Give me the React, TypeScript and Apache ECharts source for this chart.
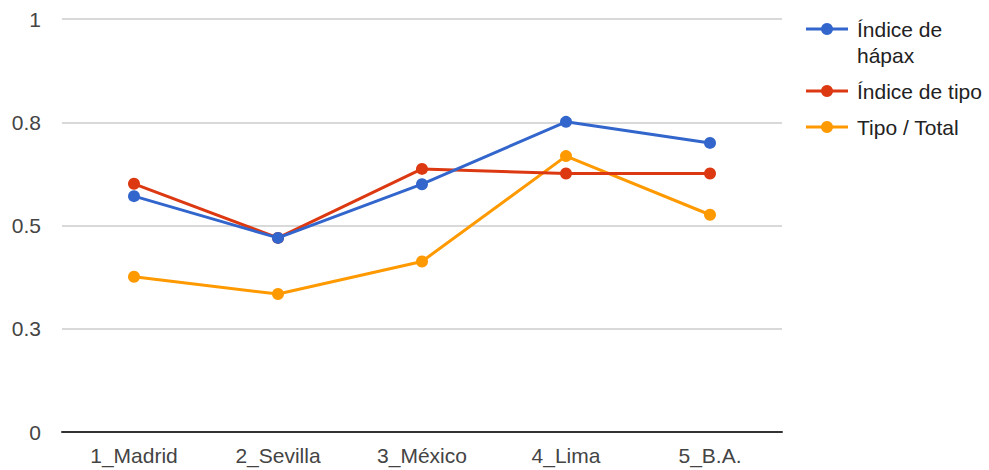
import React, { useEffect, useRef } from "react";
import * as echarts from "echarts";

// Corpus samples along the x axis
const categories = ["1_Madrid", "2_Sevilla", "3_México", "4_Lima", "5_B.A."];

// Lexical indices per sample
const hapaxIndex = [0.571, 0.47, 0.6, 0.751, 0.7];
const typeIndex = [0.601, 0.47, 0.637, 0.626, 0.626];
const typeTotal = [0.376, 0.334, 0.413, 0.668, 0.526];

const seriesNames = ["Índice de hápax", "Índice de tipo", "Tipo / Total"];
const legendLines = [["Índice de", "hápax"], ["Índice de tipo"], ["Tipo / Total"]];
const seriesColors = ["#3366CC", "#DC3912", "#FF9900"];

// Y axis: ticks every 0.25, labels shown rounded to one decimal
const yTickLabels = ["0", "0.3", "0.5", "0.8", "1"];

const FONT = "'Liberation Sans', Arial, sans-serif";

export default function App() {
  const ref = useRef<HTMLDivElement>(null);

  useEffect(() => {
    if (!ref.current) return;
    const chart = echarts.init(ref.current, undefined, { renderer: "svg" });
    const values = [hapaxIndex, typeIndex, typeTotal];

    // Custom legend drawn at the right: line + dot + (possibly wrapped) label
    const legendGraphics: any[] = [];
    const legendX = 806;
    let y = 29;
    const lineH = 26;
    legendLines.forEach((lines, i) => {
      legendGraphics.push({
        type: "line",
        shape: { x1: legendX, y1: y, x2: legendX + 42, y2: y },
        style: { stroke: seriesColors[i], lineWidth: 3 },
      });
      legendGraphics.push({
        type: "circle",
        shape: { cx: legendX + 21, cy: y, r: 6 },
        style: { fill: seriesColors[i] },
      });
      lines.forEach((t, j) => {
        legendGraphics.push({
          type: "text",
          x: legendX + 51,
          y: y + j * lineH,
          style: {
            text: t,
            fill: "#222222",
            font: `21px ${FONT}`,
            textVerticalAlign: "middle",
          },
        });
      });
      y += (lines.length - 1) * lineH + 36;
    });

    chart.setOption({
      animation: false,
      backgroundColor: "#ffffff",
      grid: { left: 62, right: 207, top: 19, bottom: 38 },
      xAxis: {
        type: "category",
        data: categories,
        boundaryGap: true,
        axisLine: { show: true, lineStyle: { color: "#333333", width: 2 } },
        axisTick: { show: false },
        axisLabel: { color: "#444444", fontSize: 21, fontFamily: FONT, margin: 13 },
        splitLine: { show: false },
      },
      yAxis: {
        type: "value",
        min: 0,
        max: 1,
        interval: 0.25,
        axisLine: { show: false },
        axisTick: { show: false },
        axisLabel: {
          color: "#444444",
          fontSize: 21,
          fontFamily: FONT,
          margin: 21,
          formatter: (v: number) => yTickLabels[Math.round(v / 0.25)] ?? "",
        },
        splitLine: { lineStyle: { color: "#cccccc", width: 1.5 } },
      },
      series: seriesNames.map((name, i) => ({
        name,
        type: "line",
        data: values[i],
        color: seriesColors[i],
        symbol: "circle",
        symbolSize: 12,
        lineStyle: { width: 3 },
        z: 3 + (2 - i),
      })),
      graphic: legendGraphics,
    });

    return () => chart.dispose();
  }, []);

  return (
    <div
      ref={ref}
      style={{ position: "fixed", left: 0, top: 0, width: 989, height: 470 }}
    />
  );
}
